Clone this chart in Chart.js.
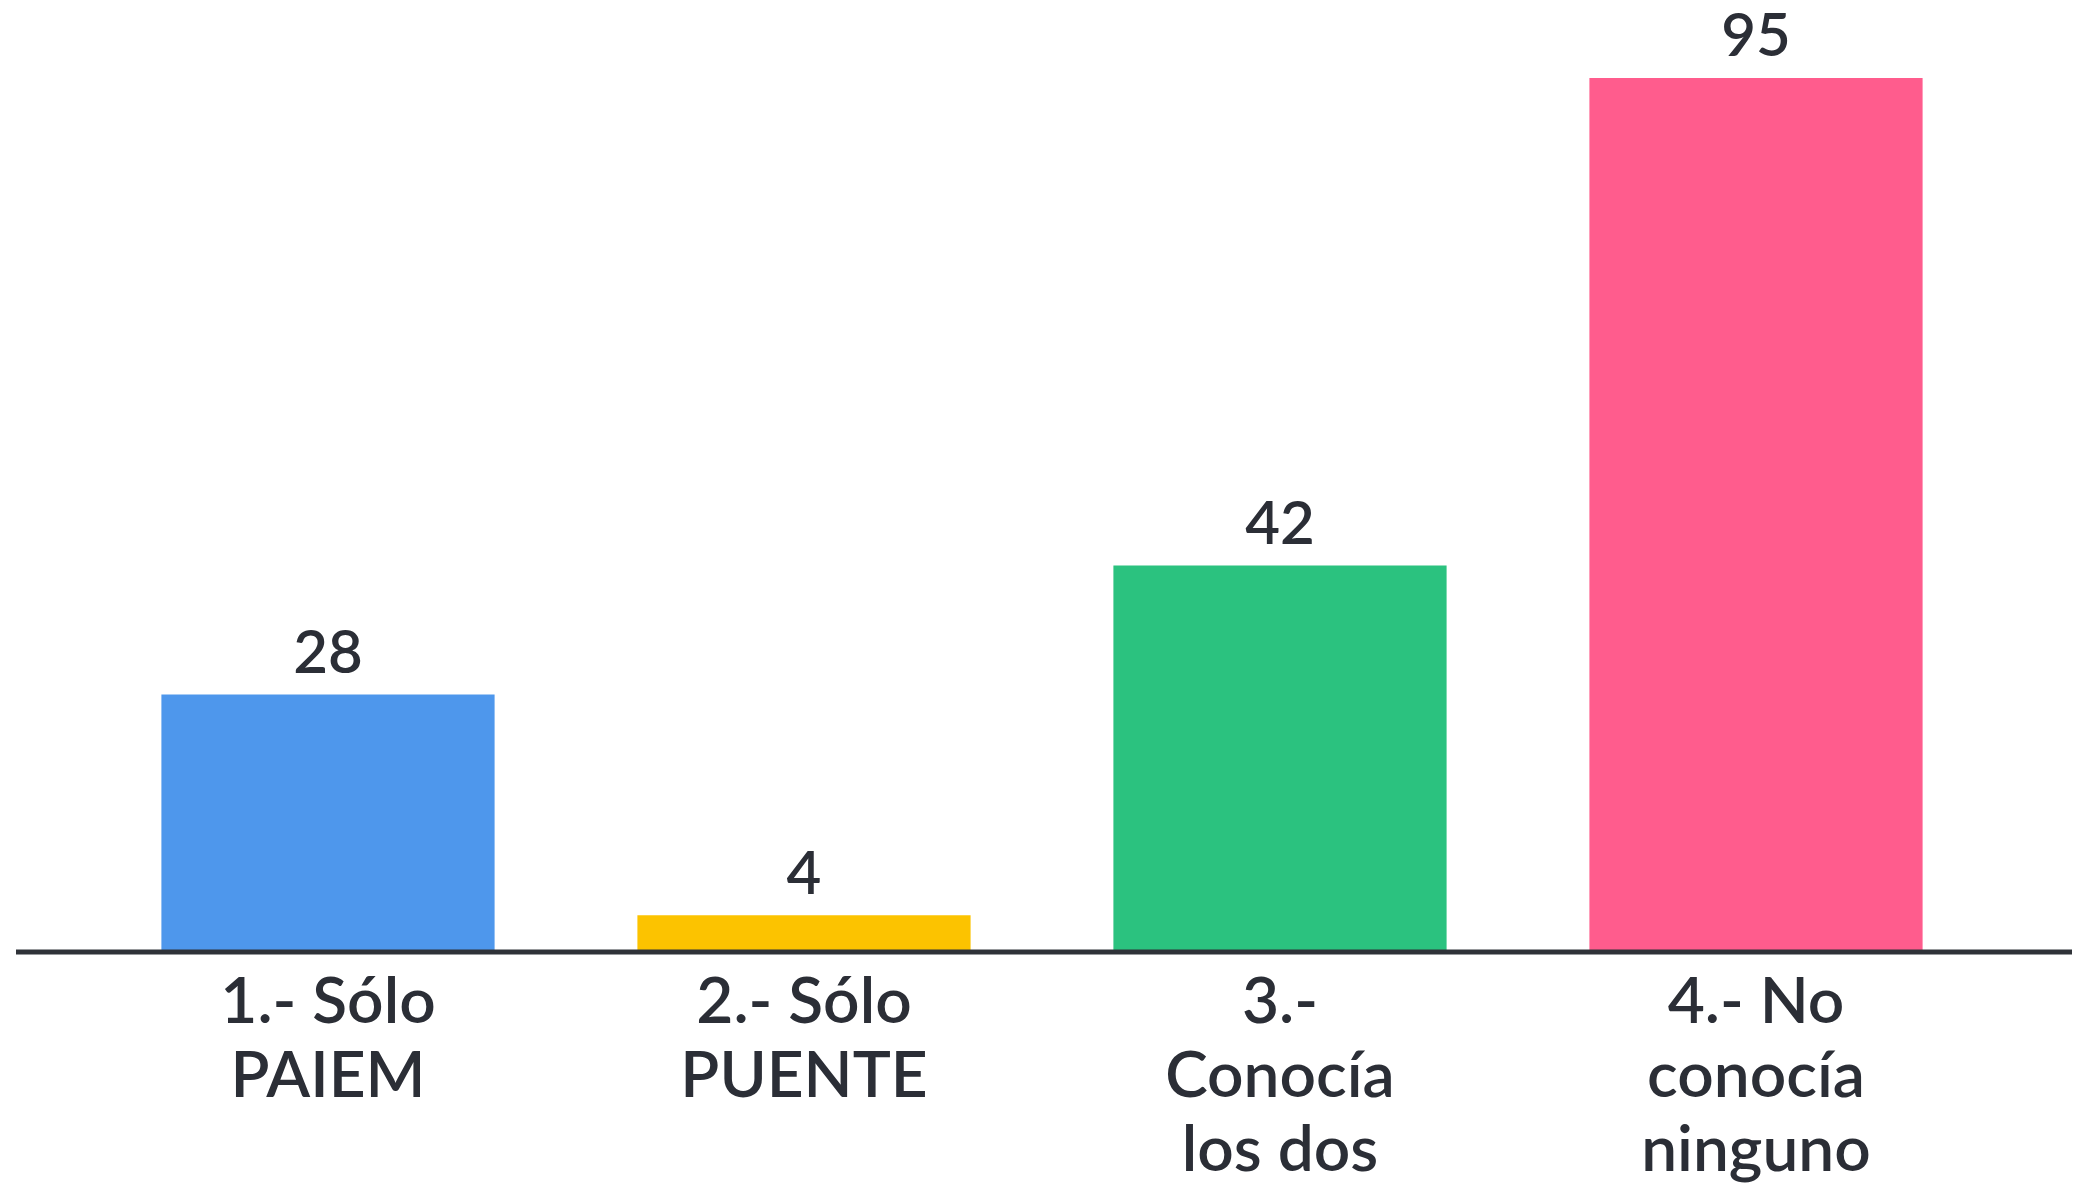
<!DOCTYPE html>
<html>
<head>
<meta charset="utf-8">
<script src="https://cdn.jsdelivr.net/npm/chart.js@4"></script>
<style>
    html, body { margin: 0; padding: 0; background: #fff; }
    #wrap { width: 2085px; height: 1192px; }
</style>
</head>
<body>
<div id="wrap"><canvas id="barChart" width="2085" height="1192"></canvas></div>
<script>
const categories = [
    ['1.- Sólo', 'PAIEM'],
    ['2.- Sólo', 'PUENTE'],
    ['3.-', 'Conocía', 'los dos'],
    ['4.- No', 'conocía', 'ninguno']
];
const values = [28, 4, 42, 95];
const barColors = ['#4E97EC', '#FCC300', '#2BC27F', '#FF5C8D'];

const TEXT_COLOR = '#2b2e36';
const FONT = 'Lato, "Noto Sans", sans-serif';

// value above each bar
const valueLabels = {
    id: 'valueLabels',
    afterDatasetsDraw(chart) {
        const ctx = chart.ctx;
        const meta = chart.getDatasetMeta(0);
        ctx.save();
        ctx.fillStyle = TEXT_COLOR;
        ctx.font = '600 60px ' + FONT;
        ctx.textAlign = 'center';
        ctx.textBaseline = 'bottom';
        meta.data.forEach((bar, i) => {
            ctx.fillText(values[i], bar.x, bar.y - 11);
        });
        ctx.restore();
    }
};

// dark baseline, wider than the plot area
const baseLine = {
    id: 'baseLine',
    afterDatasetsDraw(chart) {
        const ctx = chart.ctx;
        const y = chart.scales.y.getPixelForValue(0);
        ctx.save();
        ctx.strokeStyle = '#2f3238';
        ctx.lineWidth = 5;
        ctx.beginPath();
        ctx.moveTo(16, y);
        ctx.lineTo(2072, y);
        ctx.stroke();
        ctx.restore();
    }
};

new Chart(document.getElementById('barChart').getContext('2d'), {
    type: 'bar',
    data: {
        labels: categories,
        datasets: [{
            data: values,
            backgroundColor: barColors,
            borderWidth: 0,
            barPercentage: 0.7,
            categoryPercentage: 1.0
        }]
    },
    options: {
        responsive: false,
        animation: false,
        layout: { padding: { left: 90, right: 91, top: 32, bottom: 0 } },
        plugins: {
            legend: { display: false },
            tooltip: { enabled: false }
        },
        scales: {
            x: {
                grid: { display: false, drawTicks: false },
                border: { display: false },
                ticks: {
                    color: TEXT_COLOR,
                    padding: 14,
                    maxRotation: 0,
                    autoSkip: false,
                    font: { family: FONT, size: 64, weight: '600', lineHeight: 1.15 }
                },
                afterFit(scale) { scale.height = 240; }
            },
            y: {
                display: false,
                min: 0,
                max: 100
            }
        }
    },
    plugins: [valueLabels, baseLine]
});
</script>
</body>
</html>
